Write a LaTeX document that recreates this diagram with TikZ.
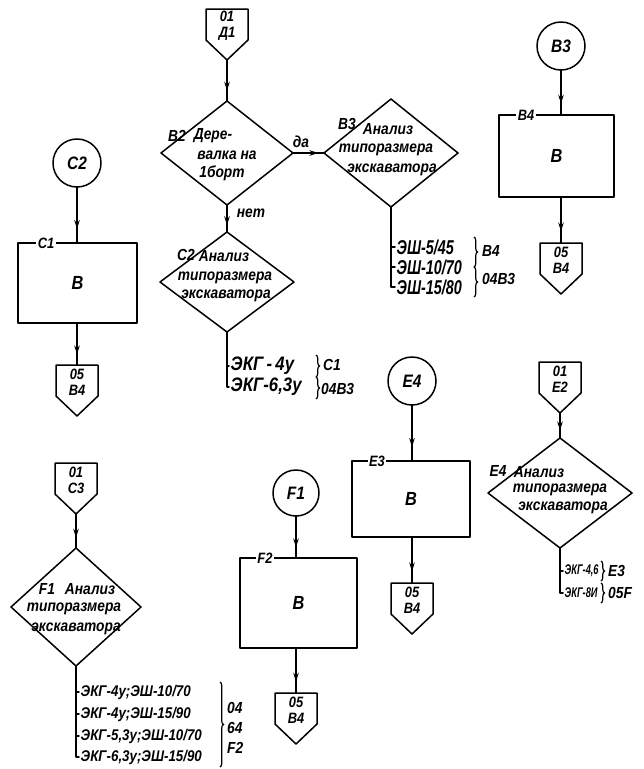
\documentclass[tikz,border=0pt]{standalone}
\usepackage{fontspec}
\setmainfont{Liberation Sans}[FakeStretch=0.86]
\newfontfamily\condfont{Liberation Sans}[FakeStretch=0.72]
\newfontfamily\narrowfont{Liberation Sans}[FakeStretch=0.66]
\usetikzlibrary{shapes.geometric,arrows.meta,decorations.markings,decorations.pathreplacing,calc}

\tikzset{
  ln/.style={line width=1.5pt, line cap=round, line join=round},
  flow/.style={ln, postaction={decorate}, decoration={markings, mark=at position #1 with {\arrow{Stealth[length=9pt,width=5.5pt]}}}},
  flow/.default=0.8,
  diam/.style={diamond, draw, ln, inner sep=0pt, outer sep=0pt},
  circ/.style={circle, draw, ln, minimum size=48pt, inner sep=0pt, outer sep=0pt, font=\fontsize{18}{18}\selectfont\itshape\bfseries},
  blk/.style={rectangle, draw, ln, inner sep=0pt, outer sep=0pt, font=\fontsize{19}{19}\selectfont\itshape\bfseries},
  tag/.style={fill=white, inner sep=1.5pt, font=\fontsize{15}{15}\selectfont\itshape\bfseries},
  dtxt/.style={inner sep=0pt, font=\fontsize{16}{16}\selectfont\itshape\bfseries},
  dlab/.style={inner sep=0pt, font=\fontsize{16}{16}\selectfont\itshape\bfseries},
  ctxt/.style={inner sep=0pt, align=center, font=\fontsize{15}{16}\selectfont\itshape\bfseries},
  ltxt/.style={anchor=west, inner sep=1.5pt, font=\fontsize{15.5}{15.5}\selectfont\itshape\bfseries},
  lbig/.style={anchor=west, inner sep=1.5pt, font=\fontsize{19.5}{19.5}\selectfont\itshape\bfseries},
  lcond/.style={anchor=west, inner sep=1.5pt, font=\condfont\fontsize{20}{20}\selectfont\itshape\bfseries},
  lsmall/.style={anchor=west, inner sep=1.5pt, font=\narrowfont\fontsize{14}{14}\selectfont\itshape\bfseries},
  blab/.style={anchor=west, inner sep=0pt, font=\fontsize{16}{16}\selectfont\itshape\bfseries},
  brc/.style={line width=1.2pt, decorate, decoration={brace, amplitude=3.5pt}},
}

\newcommand{\opconn}[4]{%
  \coordinate (#1-top) at (#2,#3);
  \coordinate (#1-tip) at (#2,#3+51);
  \draw[ln] ({#2-21},#3) -- ({#2+21},#3) -- ({#2+21},#3+31) -- (#2,#3+51) -- ({#2-21},#3+31) -- cycle;
  \node[ctxt] (#1) at (#2,#3+17) {#4};
}

\begin{document}
\begin{tikzpicture}[x=1pt,y=-1pt]
\fill[white] (0,0) rectangle (644,769);
\useasboundingbox (0,0) rectangle (644,769);

% ---------- top centre: 01/D1 -> B2 -> B3 ----------
\opconn{td}{227}{9}{01\\Д1}
\node[diam, minimum width=132pt, minimum height=104pt] (b2) at (227,153) {};
\node[dlab] (b2l) at (177,136) {B2};
\node[dtxt] (b2t1) at (213,136) {Дере-};
\node[dtxt] (b2t2) at (227,155) {валка на};
\node[dtxt] (b2t3) at (222,173) {1борт};
\draw[flow=0.75] (td-tip) -- (b2.north);

\node[diam, minimum width=134pt, minimum height=108pt] (b3) at (391,153) {};
\node[dlab] (b3l) at (347,124) {B3};
\node[dtxt] (b3t1) at (388,129) {Анализ};
\node[dtxt] (b3t2) at (386,150) {типоразмера};
\node[dtxt] (b3t3) at (392,170) {экскаватора};
\draw[flow=0.82] (b2.east) -- (b3.west);
\node[dtxt] (yes) at (301,142) {да};

% list under B3
\node[lcond] (s1) at (395,247) {ЭШ-5/45};
\node[lcond] (s2) at (395,267) {ЭШ-10/70};
\node[lcond] (s3) at (395,287) {ЭШ-15/80};
\draw[ln] (b3.south) |- (s3.west);
\draw[ln] (b3.south |- s1.west) -- (s1.west);
\draw[ln] (b3.south |- s2.west) -- (s2.west);
\draw[brc] (474,237) -- (474,267);
\draw[brc] (474,267) -- (474,297);
\node[blab] (s1b) at (482,251) {B4};
\node[blab] (s2b) at (482,279) {04B3};

% ---------- B2 -> C2 ----------
\node[diam, minimum width=134pt, minimum height=100pt] (c2d) at (227,282) {};
\draw[flow=0.75] (b2.south) -- (c2d.north);
\node[dtxt] (no) at (251,213) {нет};
\node[dlab] (c2l) at (186,255) {C2};
\node[dtxt] (c2t1) at (224,256) {Анализ};
\node[dtxt] (c2t2) at (225,278) {типоразмера};
\node[dtxt] (c2t3) at (226,296) {экскаватора};
\node[lbig] (k1) at (229,366) {ЭКГ\,-\,4у};
\node[lbig] (k2) at (229,387) {ЭКГ-6,3у};
\draw[ln] (c2d.south) |- (k2.west);
\draw[ln] (c2d.south |- k1.west) -- (k1.west);
\draw[brc] (316,355) -- (316,377);
\draw[brc] (316,377) -- (316,399);
\node[blab] (k1b) at (323,365) {C1};
\node[blab] (k2b) at (321,389) {04B3};

% ---------- right top: B3 circle -> B4 box -> 05/B4 ----------
\node[circ] (cb3) at (561,46) {B3};
\node[blk, minimum width=115pt, minimum height=82pt] (b4) at (556.5,156) {B};
\node[tag] (b4t) at (526,115) {B4};
\draw[flow=0.75] (cb3.south) -- (cb3.south |- b4.north);
\opconn{rb}{561}{243}{05\\B4}
\draw[flow=0.75] (b4.south -| rb-top) -- (rb-top);

% ---------- left: C2 circle -> C1 box -> 05/B4 ----------
\node[circ] (cc2) at (77,163) {C2};
\node[blk, minimum width=119pt, minimum height=80pt] (c1) at (77.5,283) {B};
\node[tag] (c1t) at (46,243) {C1};
\draw[flow=0.75] (cc2.south) -- (cc2.south |- c1.north);
\opconn{lb}{77}{365}{05\\B4}
\draw[flow=0.75] (c1.south -| lb-top) -- (lb-top);

% ---------- E4 circle -> E3 box -> 05/B4 ----------
\node[circ] (ce4) at (412,381) {E4};
\node[blk, minimum width=118pt, minimum height=76pt] (e3) at (411,499) {B};
\node[tag] (e3t) at (377,461) {E3};
\draw[flow=0.75] (ce4.south) -- (ce4.south |- e3.north);
\opconn{eb}{412}{583}{05\\B4}
\draw[flow=0.75] (e3.south -| eb-top) -- (eb-top);

% ---------- 01/E2 -> E4 diamond ----------
\opconn{e2}{560}{362}{01\\E2}
\node[diam, minimum width=144pt, minimum height=110pt] (e4d) at (560,493) {};
\draw[flow=0.7] (e2-tip) -- (e4d.north);
\node[dlab] (e4l) at (498,471) {E4};
\node[dtxt] (e4t1) at (539,472) {Анализ};
\node[dtxt] (e4t2) at (560,490) {типоразмера};
\node[dtxt] (e4t3) at (563,508) {экскаватора};
\node[lsmall] (m1) at (563,571) {ЭКГ-4,6};
\node[lsmall] (m2) at (563,593) {ЭКГ-8И};
\draw[ln] (e4d.south) |- (m2.west);
\draw[ln] (e4d.south |- m1.west) -- (m1.west);
\draw[brc] (601,561) -- (601,581);
\draw[brc] (601,583) -- (601,603);
\node[blab] (m1b) at (608,571) {E3};
\node[blab] (m2b) at (608,593) {05F};

% ---------- 01/C3 -> F1 diamond ----------
\opconn{c3}{76}{463}{01\\C3}
\node[diam, minimum width=130pt, minimum height=118pt] (f1d) at (76,607) {};
\draw[flow=0.7] (c3-tip) -- (f1d.north);
\node[dlab] (f1l) at (47,589) {F1};
\node[dtxt] (f1t1) at (90,589) {Анализ};
\node[dtxt] (f1t2) at (74,609) {типоразмера};
\node[dtxt] (f1t3) at (76,629) {экскаватора};
\node[ltxt] (n1) at (79,692) {ЭКГ-4у;ЭШ-10/70};
\node[ltxt] (n2) at (79,714) {ЭКГ-4у;ЭШ-15/90};
\node[ltxt] (n3) at (79,736) {ЭКГ-5,3у;ЭШ-10/70};
\node[ltxt] (n4) at (79,757) {ЭКГ-6,3у;ЭШ-15/90};
\draw[ln] (f1d.south) |- (n4.west);
\draw[ln] (f1d.south |- n1.west) -- (n1.west);
\draw[ln] (f1d.south |- n2.west) -- (n2.west);
\draw[ln] (f1d.south |- n3.west) -- (n3.west);
\draw[brc] (220,682) -- (220,767);
\node[blab] (n1b) at (227,708) {04};
\node[blab] (n2b) at (227,728) {64};
\node[blab] (n3b) at (227,748) {F2};

% ---------- F1 circle -> F2 box -> 05/B4 ----------
\node[circ, minimum size=46pt] (cf1) at (296,493) {F1};
\node[blk, minimum width=117pt, minimum height=90pt] (f2) at (298.5,603) {B};
\node[tag] (f2t) at (265,558) {F2};
\draw[flow=0.75] (cf1.south) -- (cf1.south |- f2.north);
\opconn{fb}{296}{693}{05\\B4}
\draw[flow=0.75] (f2.south -| fb-top) -- (fb-top);

\end{tikzpicture}
\end{document}
